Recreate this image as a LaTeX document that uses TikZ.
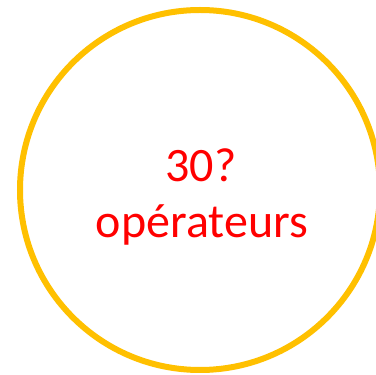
\documentclass[tikz,border=0pt]{standalone}
\usepackage{fontspec}
\setmainfont{Carlito}
\definecolor{gold}{HTML}{FFC000}
\definecolor{txtred}{HTML}{FF0000}
\begin{document}
\begin{tikzpicture}[x=1pt,y=1pt]
\useasboundingbox (0,0) rectangle (376,375);
\begin{scope}
\clip (0,0) rectangle (376,375);
\draw[gold, line width=6pt] (200,185) circle[radius=180] coordinate (c);
\end{scope}
\tikzset{bigtxt/.style={txtred, font=\fontsize{48}{58}\selectfont, inner sep=0pt, anchor=base}}
\node[bigtxt] (l1) at (201,193) {30?};
\node[bigtxt] (l2) at (202,137) {opérateurs};
\end{tikzpicture}
\end{document}
